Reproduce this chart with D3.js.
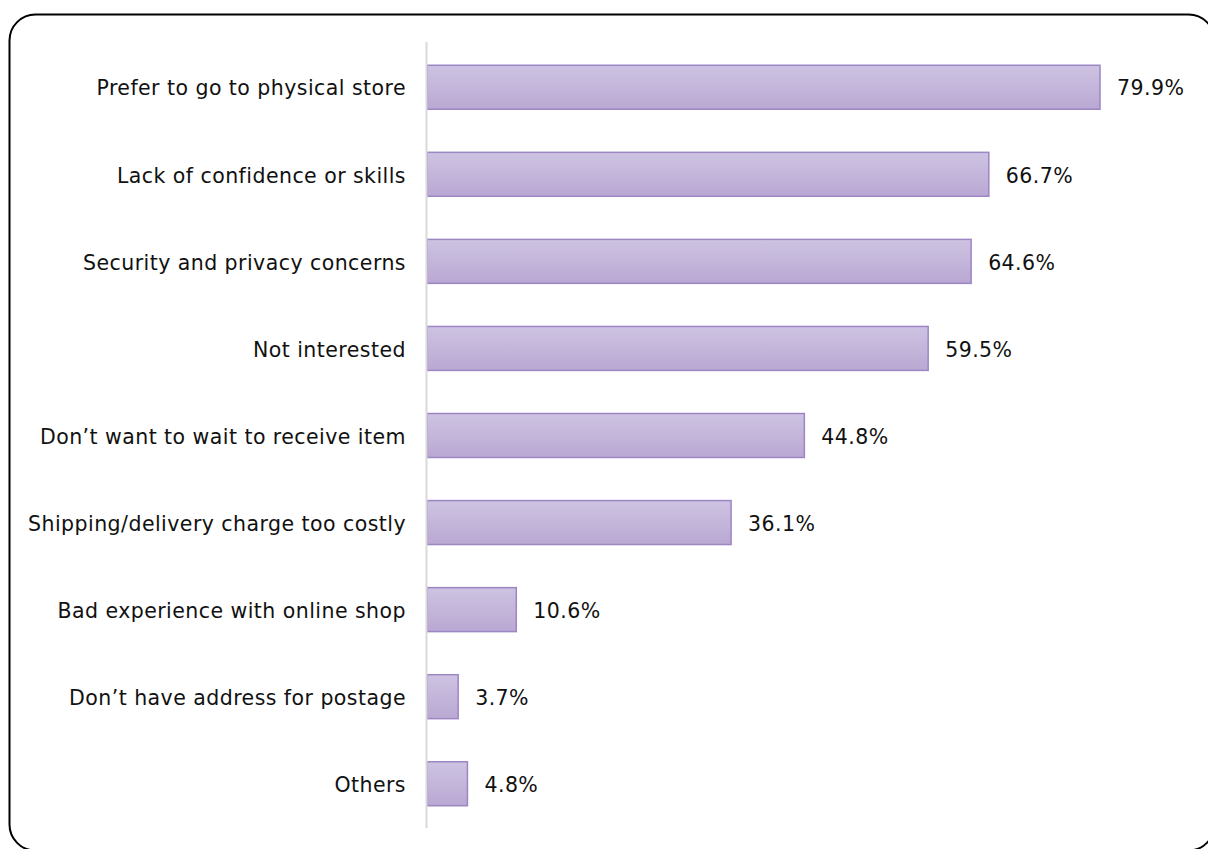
<!DOCTYPE html>
<html>
<head>
<meta charset="utf-8">
<script src="https://cdn.jsdelivr.net/npm/d3@7"></script>
<style>
  html, body { margin: 0; padding: 0; background: #fff; }
  svg { display: block; }
  text { font-family: Verdana, "DejaVu Sans", sans-serif; fill: #111; letter-spacing: 0.45px; }
</style>
</head>
<body>
<svg id="chart" width="1208" height="849"></svg>
<script>
// Reasons for not shopping online
const categories = [
  "Prefer to go to physical store",
  "Lack of confidence or skills",
  "Security and privacy concerns",
  "Not interested",
  "Don\u2019t want to wait to receive item",
  "Shipping/delivery charge too costly",
  "Bad experience with online shop",
  "Don\u2019t have address for postage",
  "Others"
];
const values = [79.9, 66.7, 64.6, 59.5, 44.8, 36.1, 10.6, 3.7, 4.8];

const svg = d3.select("#chart");

// Rounded outer frame
svg.append("rect")
  .attr("x", 9.5).attr("y", 14.5)
  .attr("width", 1205).attr("height", 836)
  .attr("rx", 26).attr("ry", 26)
  .attr("fill", "#fff")
  .attr("stroke", "#000")
  .attr("stroke-width", 2);

const defs = svg.append("defs");
const grad = defs.append("linearGradient")
  .attr("id", "barFill")
  .attr("x1", 0).attr("y1", 0).attr("x2", 0).attr("y2", 1);
grad.append("stop").attr("offset", "0%").attr("stop-color", "#cec3e2");
grad.append("stop").attr("offset", "100%").attr("stop-color", "#b9a8d3");

const x0 = 427;
const x = d3.scaleLinear().domain([0, 79.9]).range([x0, 1100]);
const y = d3.scaleBand().domain(categories).range([43.5, 827.5]).paddingInner(0.495).paddingOuter(0.25);

const data = categories.map((c, i) => ({ c, v: values[i] }));

// Bars
svg.append("g").selectAll("rect")
  .data(data)
  .join("rect")
  .attr("x", x(0))
  .attr("y", d => y(d.c))
  .attr("width", d => x(d.v) - x(0))
  .attr("height", y.bandwidth())
  .attr("fill", "url(#barFill)")
  .attr("stroke", "#9c86c4")
  .attr("stroke-width", 1.5);

// Category axis line
svg.append("line")
  .attr("x1", x0 - 0.5).attr("x2", x0 - 0.5)
  .attr("y1", 42).attr("y2", 828)
  .attr("stroke", "#d9d9d9")
  .attr("stroke-width", 2);

// Category labels
svg.append("g").selectAll("text")
  .data(data)
  .join("text")
  .attr("x", 406)
  .attr("y", d => y(d.c) + y.bandwidth() / 2)
  .attr("dy", "0.4em")
  .attr("text-anchor", "end")
  .attr("font-size", 20.5)
  .text(d => d.c);

// Value labels
svg.append("g").selectAll("text")
  .data(data)
  .join("text")
  .attr("x", d => x(d.v) + 17)
  .attr("y", d => y(d.c) + y.bandwidth() / 2)
  .attr("dy", "0.4em")
  .attr("font-size", 20.5)
  .text(d => d.v.toFixed(1) + "%");
</script>
</body>
</html>
